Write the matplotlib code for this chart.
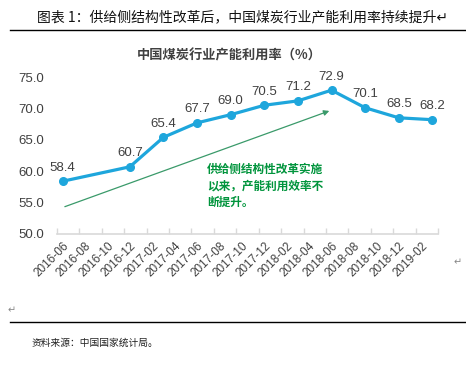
import matplotlib
matplotlib.use("Agg")
import matplotlib.pyplot as plt
from matplotlib.ticker import FixedLocator

plt.rcParams['font.family'] = ['Liberation Sans', 'Noto Sans CJK SC', 'DejaVu Sans']

# Monthly category axis
months = []
for y in (2016, 2017, 2018, 2019):
    for m in range(1, 13):
        s = f"{y}-{m:02d}"
        if "2016-06" <= s <= "2019-03":
            months.append(s)

data_dates = ["2016-06", "2016-12", "2017-03", "2017-06", "2017-09", "2017-12",
              "2018-03", "2018-06", "2018-09", "2018-12", "2019-03"]
data_values = [58.4, 60.7, 65.4, 67.7, 69.0, 70.5, 71.2, 72.9, 70.1, 68.5, 68.2]
tick_labels = months[::2]

title_text = "图表 1：供给侧结构性改革后，中国煤炭行业产能利用率持续提升"
chart_title = "中国煤炭行业产能利用率（%）"
note_text = "供给侧结构性改革实施\n以来，产能利用效率不\n断提升。"
source_text = "资料来源：中国国家统计局。"

W, H = 466, 367
fig = plt.figure(figsize=(W / 100, H / 100), dpi=100)
fig.patch.set_facecolor('white')

ax_l, ax_r, ax_t, ax_b = 57, 438, 77, 234
ax = fig.add_axes([ax_l / W, (H - ax_b) / H, (ax_r - ax_l) / W, (ax_b - ax_t) / H])

xs = [months.index(d) for d in data_dates]
line_color = '#1ea6dc'
ax.plot(xs, data_values, color=line_color, lw=2.3, marker='o', ms=5.5,
        markerfacecolor=line_color, markeredgecolor=line_color, zorder=3)
for x, v in zip(xs, data_values):
    ax.annotate(f"{v:.1f}", (x, v), xytext=(0, 5.5), textcoords='offset points',
                ha='center', va='bottom', fontsize=9.5, color='#404040')

ax.set_xlim(-0.5, len(months) - 0.5)
ax.set_ylim(50, 75)
ax.set_yticks([50, 55, 60, 65, 70, 75])
ax.set_yticklabels([f"{v:.1f}" for v in [50, 55, 60, 65, 70, 75]], fontsize=9.5, color='#404040')

ax.set_xticks(list(range(0, len(months), 2)))
ax.set_xticklabels(tick_labels, rotation=45, ha='right', rotation_mode='anchor',
                   fontsize=8.5, color='#404040')
ax.tick_params(axis='x', which='major', length=0, pad=4)
ax.xaxis.set_minor_locator(FixedLocator([i - 0.5 for i in range(0, len(months) + 1, 2)]))
ax.tick_params(axis='x', which='minor', length=4, direction='in', color='#d9d9d9', width=1)
ax.tick_params(axis='y', length=0, pad=9)

for s in ('top', 'right', 'left'):
    ax.spines[s].set_visible(False)
ax.spines['bottom'].set_color('#d9d9d9')
ax.spines['bottom'].set_linewidth(1.2)

# Arrow annotation
ax.annotate("", xy=(23.8, 69.6), xytext=(0.2, 54.35),
            arrowprops=dict(arrowstyle='-|>', color='#3a9a6a', lw=0.9,
                            mutation_scale=8, shrinkA=0, shrinkB=0))
fig.text(207 / W, 1 - 163 / H, note_text, fontsize=8.4, fontweight='bold',
         color='#00943c', family=['Noto Sans CJK SC', 'DejaVu Sans'],
         ha='left', va='top', linespacing=1.35)

# Titles and page elements
fig.text(37 / W, 1 - 17 / H, title_text + "↵", fontsize=10,
         family=['Noto Sans CJK SC', 'DejaVu Sans'], ha='left', va='center', color='#111111')
fig.add_artist(plt.Line2D([10 / W, 1], [1 - 30 / H, 1 - 30 / H], color='black', lw=1))
fig.text(229 / W, 1 - 55 / H, chart_title, fontsize=9.5, fontweight='bold',
         family=['Noto Sans CJK SC', 'DejaVu Sans'], ha='center', va='center', color='#404040')

fig.text(458 / W, 1 - 262 / H, "↵", fontsize=7, color='#888888',
         family=['DejaVu Sans'], ha='center', va='center')
fig.text(12 / W, 1 - 310 / H, "↵", fontsize=7, color='#888888',
         family=['DejaVu Sans'], ha='center', va='center')
fig.add_artist(plt.Line2D([10 / W, 1], [1 - 322 / H, 1 - 322 / H], color='black', lw=1))
fig.text(32 / W, 1 - 343 / H, source_text, fontsize=7, style='italic',
         family=['Noto Sans CJK SC', 'DejaVu Sans'], ha='left', va='center', color='#222222')

fig.savefig("out.png", dpi=100, facecolor='white')
